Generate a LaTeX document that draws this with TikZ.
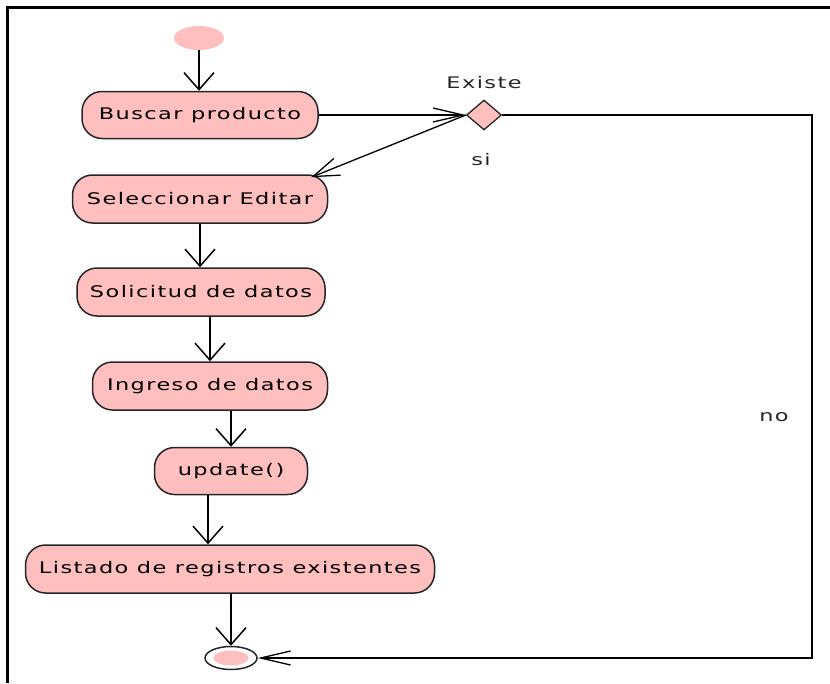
\documentclass[tikz,border=0pt]{standalone}
\usepackage{fontspec}
\setmainfont[FakeStretch=1.4,LetterSpace=9]{DejaVu Sans}
\usetikzlibrary{arrows.meta,shapes.geometric}
\definecolor{actpink}{RGB}{255,191,191}
\tikzset{
    accion/.style={draw=black!85,line width=1.5pt,fill=actpink,rounded corners=20pt,
        minimum height=47pt,font=\fontsize{16}{18}\selectfont},
    etiqueta/.style={font=\fontsize{16}{18}\selectfont,text=black!85},
    vflecha/.style={-{Straight Barb[length=17pt,width=30pt]},line width=1.5pt},
    hflecha/.style={-{Straight Barb[length=30pt,width=14pt]},line width=1.3pt},
    dflecha/.style={-{Straight Barb[length=26pt,width=18pt]},line width=1.3pt}
}
\begin{document}
\begin{tikzpicture}[x=1pt,y=-1pt]
            \useasboundingbox (0,0) rectangle (830,683);
            \draw[line width=3pt] (7,683) -- (7,7) -- (830,7);
            % nodos
            \node[ellipse,fill=actpink,minimum width=50pt,minimum height=24pt,inner sep=0] (inicio) at (199,38) {};
            \node[accion,minimum width=236pt] (buscar) at (200,115) {Buscar producto};
            \node[diamond,draw=black!85,line width=1.3pt,fill=actpink,aspect=1.17,minimum width=35pt,minimum height=30pt,inner sep=0] (existe) at (484,115) {};
            \node[accion,minimum width=255pt,minimum height=48pt] (selec) at (200,199) {Seleccionar Editar};
            \node[accion,minimum width=248pt,minimum height=48pt] (solic) at (201,292) {Solicitud de datos};
            \node[accion,minimum width=235pt,minimum height=48pt] (ingreso) at (210,386) {Ingreso de datos};
            \node[accion,minimum width=153pt] (update) at (231,471) {update()};
            \node[accion,minimum width=409pt,minimum height=48pt] (listado) at (230,569) {Listado de registros existentes};
            \node[ellipse,draw=black!85,line width=1.5pt,fill=white,minimum width=52pt,minimum height=23pt,inner sep=0] (fin) at (231,658) {};
            \node[ellipse,fill=actpink,minimum width=35pt,minimum height=15pt,inner sep=0] (finc) at (fin) {};
            \node[etiqueta] (lexiste) at (484,83) {Existe};
            \node[etiqueta] (lsi) at (481,160) {si};
            \node[etiqueta] (lno) at (774,417) {no};
            \coordinate (esq1) at (812,115);
            \coordinate (esq2) at (812,658);
            % transiciones
            \draw[vflecha] (inicio) -- (inicio |- buscar.north);
            \draw[hflecha] (buscar.east) -- (existe.west);
            \draw[dflecha] (existe.west) -- ([xshift=-17pt,yshift=-3pt]selec.north east);
            \draw[hflecha] (existe.east) -- (esq1) -- (esq2) -- (fin.east);
            \draw[vflecha] (selec) -- (selec |- solic.north);
            \draw[vflecha] (ingreso |- solic.south) -- (ingreso.north);
            \draw[vflecha] (update |- ingreso.south) -- (update.north);
            \draw[vflecha] ([xshift=-23pt]update.south) -- ([xshift=-23pt]update.south |- listado.north);
            \draw[vflecha] (fin |- listado.south) -- (fin.north);
        \end{tikzpicture}
\end{document}
